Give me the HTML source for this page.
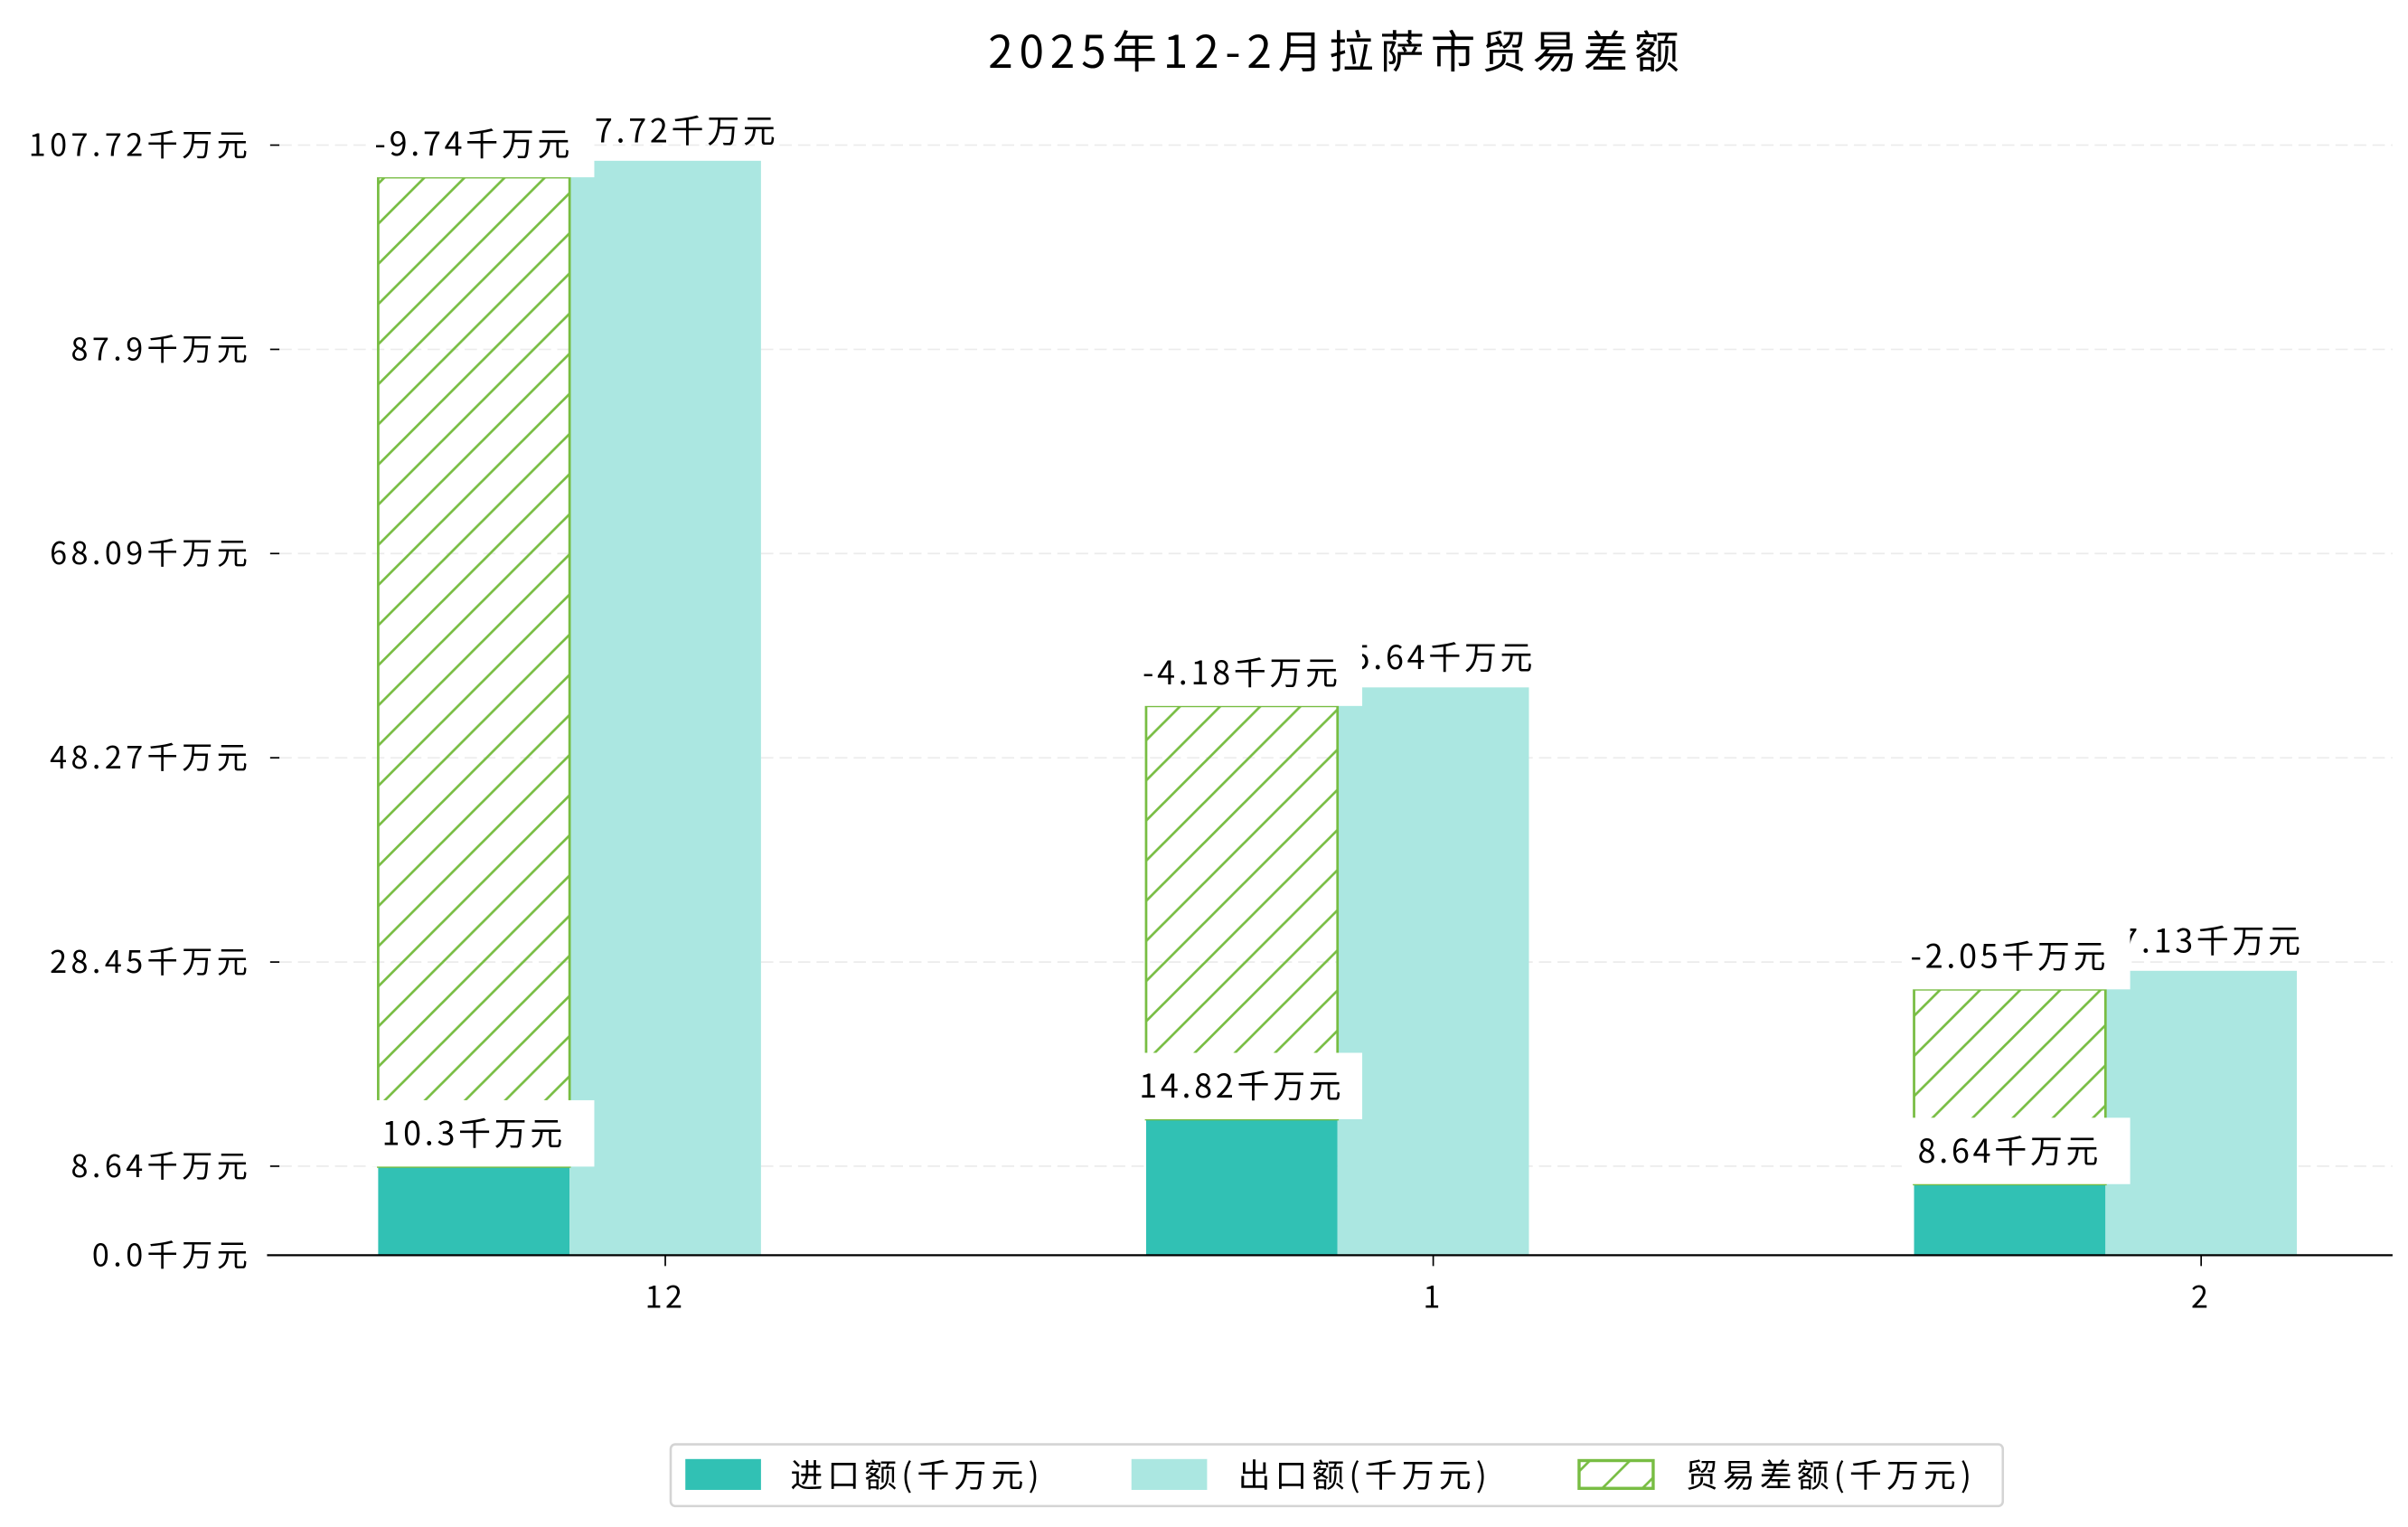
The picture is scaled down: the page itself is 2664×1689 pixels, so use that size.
<!DOCTYPE html>
<html><head><meta charset="utf-8"><style>
html,body{margin:0;padding:0;background:#fff;}
svg{display:block;}
text{font-family:"WenQuanYi Zen Hei","Noto Sans CJK SC","Liberation Sans",sans-serif;fill:#000;}
</style></head><body>
<svg id="chart" width="2664" height="1689" viewBox="0 0 1560 989" xmlns="http://www.w3.org/2000/svg">
<defs>
<pattern id="hatch" patternUnits="userSpaceOnUse" width="26" height="26">
<line x1="-2" y1="28" x2="28" y2="-2" stroke="#78bd43" stroke-width="1.6"/>
<line x1="-15" y1="15" x2="15" y2="-15" stroke="#78bd43" stroke-width="1.6"/>
<line x1="11" y1="41" x2="41" y2="11" stroke="#78bd43" stroke-width="1.6"/>
</pattern>
</defs>
<text x="866" y="44" font-size="29" text-anchor="middle" letter-spacing="4">2025年12-2月拉萨市贸易差额</text>
<g id="grid"></g><g id="bars"></g><g id="labels"></g><g id="axes"></g>
<g>
<rect x="434.5" y="935.5" width="863" height="40" rx="3" fill="#fff" stroke="#d4d4d4" stroke-width="1.5"/>
<rect x="444" y="945" width="49" height="20" fill="#31c1b4"/>
<text x="512" y="963" font-size="21" letter-spacing="3">进口额(千万元)</text>
<rect x="733" y="945" width="49" height="20" fill="#abe7e1"/>
<text x="802" y="963" font-size="21" letter-spacing="3">出口额(千万元)</text>
<rect x="1023" y="946" width="48" height="18" fill="url(#hatch)" stroke="#78bd43" stroke-width="2"/>
<text x="1092" y="963" font-size="21" letter-spacing="3">贸易差额(千万元)</text>
</g>
</svg>
<script>
const categories = ["12", "1", "2"];
const importValues = [8.6, 13.2, 6.9];
const exportValues = [106.2, 55.1, 27.6];
const balanceTops = [104.6, 53.3, 25.8];
const importLabels = ["10.3千万元", "14.82千万元", "8.64千万元"];
const exportLabels = ["107.72千万元", "55.64千万元", "27.13千万元"];
const balanceLabels = ["-9.74千万元", "-4.18千万元", "-2.05千万元"];
const yTicks = [0.0, 8.64, 28.45, 48.27, 68.09, 87.9, 107.72];
const yTickLabels = ["0.0千万元", "8.64千万元", "28.45千万元", "48.27千万元", "68.09千万元", "87.9千万元", "107.72千万元"];

const NS = "http://www.w3.org/2000/svg";
const X0 = 173, X1 = 1550, Y0 = 813, PXU = 6.675;
function yScale(v){ return Y0 - v * PXU; }
function xCenter(i){ return 431 + i * 497.5; }
const BW = 124;
function mk(tag, attrs, parent){ const e = document.createElementNS(NS, tag); for (const k in attrs) e.setAttribute(k, attrs[k]); parent.appendChild(e); return e; }
const grid = document.getElementById('grid'), bars = document.getElementById('bars'), labels = document.getElementById('labels'), axes = document.getElementById('axes');

yTicks.forEach((t, i) => {
  const y = yScale(t);
  if (t > 0) {
    const g = mk('line', {x1: 181, x2: X1, y1: y, y2: y, stroke: '#ececec', 'stroke-width': 1, 'stroke-dasharray': '8 4'}, grid);
    
    
  }
  const tk = mk('line', {x1: 175, x2: 181, y1: y, y2: y, stroke: '#000', 'stroke-width': 1}, axes);
  
  
  const tl = mk('text', {x: 163, y: y + 7, 'font-size': 20, 'text-anchor': 'end', 'letter-spacing': 2.6}, axes);
  tl.textContent = yTickLabels[i];
  
  
});
const ax = mk('line', {x1: X0, x2: X1, y1: Y0, y2: Y0, stroke: '#000', 'stroke-width': 1.3}, axes);



function label(parent, txt, cx, bottom, box, name){
  if (box) {
    const r = mk('rect', {x: cx - 70, y: bottom - 43, width: 148, height: 43, fill: '#fff'}, parent);
    
    
  }
  const t = mk('text', {x: cx, y: bottom - (box ? 14 : 12), 'font-size': 21, 'text-anchor': 'middle', 'letter-spacing': 2.2}, parent);
  t.textContent = txt;
  
  
}

categories.forEach((c, i) => {
  const cx = xCenter(i);
  const ix = cx - 1.5 * BW, ex0 = cx - 0.5 * BW;
  const imp = mk('rect', {x: ix, y: yScale(importValues[i]), width: BW, height: Y0 - yScale(importValues[i]), fill: '#31c1b4'}, bars);
  
  
  const ex = mk('rect', {x: ex0, y: yScale(exportValues[i]), width: BW, height: Y0 - yScale(exportValues[i]), fill: '#abe7e1'}, bars);
  
  
  const bt = yScale(balanceTops[i]), bb = yScale(importValues[i]);
  const bal = mk('rect', {x: ix, y: bt, width: BW, height: bb - bt, fill: 'url(#hatch)', stroke: '#78bd43', 'stroke-width': 1.6}, bars);
  
  
  const xt = mk('line', {x1: cx, x2: cx, y1: Y0, y2: Y0 + 7, stroke: '#000', 'stroke-width': 1}, axes);
  
  
  const xl = mk('text', {x: cx, y: 847, 'font-size': 20, 'text-anchor': 'middle', 'letter-spacing': 2}, axes);
  xl.textContent = c;
  
  
});
categories.forEach((c, i) => {
  const cx = xCenter(i);
  label(labels, exportLabels[i], cx, yScale(exportValues[i]), false, 'export-value-label');
  label(labels, balanceLabels[i], cx - BW, yScale(balanceTops[i]), true, 'balance-value-label');
  label(labels, importLabels[i], cx - BW, yScale(importValues[i]), true, 'import-value-label');
});
</script>
</body></html>
